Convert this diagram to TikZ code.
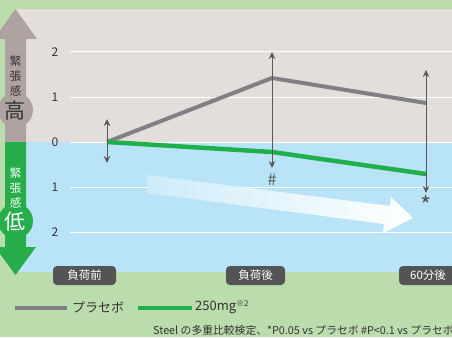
\documentclass[tikz,border=0pt]{standalone}
\usepackage{fontspec}
\setmainfont{Noto Sans CJK JP}
\usetikzlibrary{arrows.meta}
\definecolor{outerbg}{HTML}{BBDCAD}
\definecolor{upperbg}{HTML}{E3DEDB}
\definecolor{lowerbg}{HTML}{B9E4F7}
\definecolor{arrowgrey}{HTML}{AEA3A0}
\definecolor{arrowgreen}{HTML}{27AE4A}
\definecolor{linegrey}{HTML}{808084}
\definecolor{linegreen}{HTML}{1FB04B}
\definecolor{errcol}{HTML}{595959}
\definecolor{boxcol}{HTML}{545454}
\definecolor{txtcol}{HTML}{333333}
\tikzset{
  grid/.style={white, line width=1pt},
  ticklab/.style={text=txtcol, font=\fontsize{12}{12}\selectfont, inner sep=0pt},
  catbox/.style={fill=boxcol, text=white, rounded corners=4pt, minimum height=19pt, inner sep=0pt, font=\fontsize{11.5}{11.5}\selectfont},
  errbar/.style={errcol, line width=1pt, {Stealth[length=7pt,width=6.5pt]}-{Stealth[length=7pt,width=6.5pt]}},
  greyline/.style={linegrey, line width=4pt, line join=round},
  greenline/.style={linegreen, line width=4.5pt, line join=round},
  sig/.style={text=errcol, font=\fontsize{16}{16}\selectfont, inner sep=0pt},
  vlab/.style={font=\fontsize{11.5}{15}\selectfont, align=center, inner sep=0pt},
  biglab/.style={font=\fontsize{21}{21}\selectfont, inner sep=0pt},
  legtext/.style={text=txtcol, font=\fontsize{13}{13}\selectfont, inner sep=0pt, anchor=west},
}
\begin{document}
\begin{tikzpicture}[x=1pt, y=-1pt]
\useasboundingbox (0,0) rectangle (452,337);
\clip (0,0) rectangle (452,337);
\fill[outerbg] (0,0) rectangle (452,337);
% plot background
\fill[upperbg] (15,9) rectangle (460,142);
\fill[lowerbg] (15,142) rectangle (460,272);
% grid
\foreach \yy in {52,97,142,187,232} \draw[grid] (70,\yy) -- (460,\yy);
% tick labels
\node[ticklab] (t2u) at (55,52) {2};
\node[ticklab] (t1u) at (55,97) {1};
\node[ticklab] (t0) at (55,142) {0};
\node[ticklab] (t1l) at (55,187) {1};
\node[ticklab] (t2l) at (55,232) {2};
% left arrows
\fill[arrowgrey] (5,142.5) -- (5,39) -- (-6,39) -- (15.5,9) -- (37,39) -- (26,39) -- (26,142.5) -- cycle;
\fill[arrowgrey] (15.5,110) circle (17.5);
\fill[arrowgreen] (5,142) -- (5,247) -- (-5,247) -- (15.5,275) -- (36,247) -- (26,247) -- (26,142) -- cycle;
\fill[arrowgreen] (15.5,221) circle (17.5);
\node[vlab, text=txtcol] (hiT) at (15.5,76) {緊\\張\\感};
\node[biglab, text=txtcol] (hi) at (15.5,111) {高};
\node[vlab, text=white] (loT) at (15.5,188) {緊\\張\\感};
\node[biglab, text=white] (lo) at (15.5,222) {低};
% white trend arrow
\shade[left color=lowerbg!70!white, right color=white]
  (147,175) -- (390,206) -- (391,197) -- (413,218) -- (383,233) -- (384,224) -- (147,193) -- cycle;
% data points
\coordinate (g0) at (107,142);
\coordinate (g1) at (272,78);
\coordinate (g2) at (426,103);
\coordinate (n1) at (272,152);
\coordinate (n2) at (426,174);
% error bar ends
\coordinate (e0t) at (107,119);
\coordinate (e0b) at (107,163);
\coordinate (e1t) at (272,52);
\coordinate (e1b) at (272,168);
\coordinate (e2t) at (426,70);
\coordinate (e2b) at (426,193);
% lines
\draw[greyline] (g0) -- (g1) -- (g2);
\draw[greenline] (g0) -- (n1) -- (n2);
% error bars
\draw[errbar] (e0b) -- (e0t);
\draw[errbar] (e1b) -- (e1t);
\draw[errbar] (e2b) -- (e2t);
\node[sig] (hash) at (272,180) {\#};
\node[sig, font=\fontsize{24}{24}\selectfont] (star) at (426,205) {*};
% category boxes
\node[catbox, minimum width=63pt] (c0) at (84.5,275.5) {負荷前};
\node[catbox, minimum width=59pt] (c1) at (255.5,275.5) {負荷後};
\node[catbox, minimum width=58pt] (c2) at (428,275.5) {60分後};
% legend
\coordinate (lg0) at (15,308);
\coordinate (lg1) at (67,308);
\coordinate (ln0) at (138,308);
\coordinate (ln1) at (192,308);
\draw[linegrey, line width=4pt] (lg0) -- (lg1);
\draw[linegreen, line width=4pt] (ln0) -- (ln1);
\node[legtext] (lgt) at (72,307) {プラセボ};
\node[legtext] (lnt) at (195,307) {250mg\raisebox{3.5pt}{\fontsize{8}{8}\selectfont ※2}};
% footnote
\node[text=txtcol, font=\fontsize{10.8}{11}\selectfont, inner sep=0pt, anchor=west] (fn) at (153,330) {Steel の多重比較検定、*P0.05 vs プラセボ \#P<0.1 vs プラセボ};
\end{tikzpicture}
\end{document}
